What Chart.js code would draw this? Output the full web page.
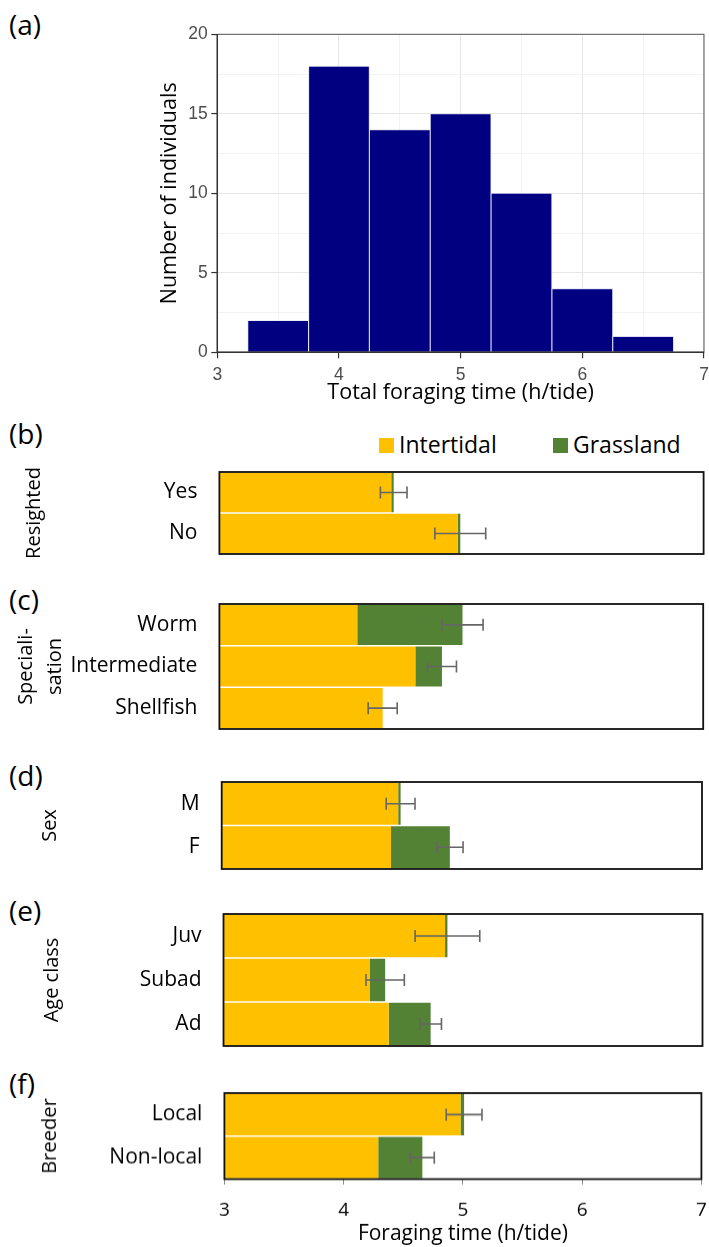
<!DOCTYPE html>
<html>
<head>
<meta charset="utf-8">
<script src="https://cdn.jsdelivr.net/npm/chart.js@4.4.1/dist/chart.umd.min.js"></script>
<style>
  html, body { margin: 0; padding: 0; background: #fff; }
  #fig { position: relative; width: 709px; height: 1247px; overflow: hidden; font-family: 'Open Sans', sans-serif; color: #000; }
  #fig canvas { position: absolute; left: 0; }
  .tag { position: absolute; left: 9px; font-size: 28px; line-height: 28px; white-space: nowrap; }
  .swatch { position: absolute; top: 438px; width: 15px; height: 15px; }
  .keytext { position: absolute; top: 432.5px; font-size: 23px; line-height: 23px; white-space: nowrap; }
</style>
</head>
<body>
<div id="fig">
  <div class="tag" style="top:10px">(a)</div>
  <div class="tag" style="top:419px">(b)</div>
  <div class="tag" style="top:585px">(c)</div>
  <div class="tag" style="top:761px">(d)</div>
  <div class="tag" style="top:896px">(e)</div>
  <div class="tag" style="top:1069px">(f)</div>
  <canvas id="hist"></canvas>
  <canvas id="resighted"></canvas>
  <canvas id="special"></canvas>
  <canvas id="sex"></canvas>
  <canvas id="age"></canvas>
  <canvas id="breeder"></canvas>
</div>
<script>
// ---- (a) histogram of total foraging time ----
const histBinCenters = [3.5, 4, 4.5, 5, 5.5, 6, 6.5];
const histCounts     = [2, 18, 14, 15, 10, 4, 1];
const countTicks     = [0, 5, 10, 15, 20];
const timeTicks      = [3, 4, 5, 6, 7];

// ---- (b)-(f) mean foraging time split by habitat, with SE ----
const seriesNames  = ['Intertidal', 'Grassland'];
const seriesColors = ['#FFC000', '#548235'];

const resightedLabels     = ['Yes', 'No'];
const resightedIntertidal = [4.42, 4.97];
const resightedGrassland  = [0.02, 0.02];
const resightedSE         = [0.11, 0.21];

const specialLabels     = ['Worm', 'Intermediate', 'Shellfish'];
const specialIntertidal = [4.14, 4.62, 4.35];
const specialGrassland  = [0.87, 0.22, 0.00];
const specialSE         = [0.17, 0.12, 0.12];

const sexLabels     = ['M', 'F'];
const sexIntertidal = [4.47, 4.41];
const sexGrassland  = [0.02, 0.49];
const sexSE         = [0.12, 0.11];

const ageLabels     = ['Juv', 'Subad', 'Ad'];
const ageIntertidal = [4.85, 4.22, 4.38];
const ageGrassland  = [0.02, 0.13, 0.35];
const ageSE         = [0.27, 0.16, 0.09];

const breederLabels     = ['Local', 'Non-local'];
const breederIntertidal = [4.98, 4.29];
const breederGrassland  = [0.03, 0.37];
const breederSE         = [0.15, 0.10];

const SANS = "'Open Sans', sans-serif";
const W = 709;

function sizeCanvas(id, top, height) {
  const c = document.getElementById(id);
  c.width = W; c.height = height;
  c.style.width = W + 'px'; c.style.height = height + 'px';
  c.style.top = top + 'px';
  return c;
}

// scales report no extra edge padding, so the plot box stays where the layout puts it
function noEdgePadding(s) {
  s.paddingTop = 0; s.paddingBottom = 0; s.paddingLeft = 0; s.paddingRight = 0;
}

// legend (shared by panels b-f)
const fig = document.getElementById('fig');
const legendLeft = [379, 553];
seriesNames.forEach((name, i) => {
  const sw = document.createElement('div');
  sw.className = 'swatch';
  sw.style.left = legendLeft[i] + 'px';
  sw.style.background = seriesColors[i];
  fig.appendChild(sw);
  const tx = document.createElement('div');
  tx.className = 'keytext';
  tx.style.left = (legendLeft[i] + 20) + 'px';
  tx.textContent = name;
  fig.appendChild(tx);
});

// panel frame for the histogram: light border, darker axis lines
const histFrame = {
  id: 'histFrame',
  afterDatasetsDraw(chart) {
    const { ctx, chartArea: a } = chart;
    ctx.save();
    ctx.strokeStyle = '#555';
    ctx.lineWidth = 1;
    ctx.strokeRect(a.left, a.top, a.right - a.left, a.bottom - a.top);
    ctx.strokeStyle = '#333';
    ctx.lineWidth = 1.4;
    ctx.beginPath();
    ctx.moveTo(a.left, a.top);
    ctx.lineTo(a.left, a.bottom);
    ctx.lineTo(a.right, a.bottom);
    ctx.stroke();
    ctx.restore();
  }
};

// black box around each bar panel
const boxFrame = {
  id: 'boxFrame',
  afterDatasetsDraw(chart) {
    const { ctx, chartArea: a } = chart;
    ctx.save();
    ctx.strokeStyle = '#111';
    ctx.lineWidth = 1.8;
    ctx.strokeRect(a.left, a.top, a.right - a.left, a.bottom - a.top);
    ctx.restore();
  }
};

// standard-error whiskers centred on the stacked total
const errorBars = {
  id: 'errorBars',
  afterDatasetsDraw(chart, args, opts) {
    const { ctx } = chart;
    const xs = chart.scales.x, ys = chart.scales.y;
    const [d0, d1] = chart.data.datasets;
    ctx.save();
    ctx.strokeStyle = '#666';
    ctx.lineWidth = 1.6;
    opts.se.forEach((e, i) => {
      const total = d0.data[i] + d1.data[i];
      const y = ys.getPixelForValue(i);
      const x1 = xs.getPixelForValue(total - e);
      const x2 = xs.getPixelForValue(total + e);
      ctx.beginPath();
      ctx.moveTo(x1, y); ctx.lineTo(x2, y);
      ctx.moveTo(x1, y - 6); ctx.lineTo(x1, y + 6);
      ctx.moveTo(x2, y - 6); ctx.lineTo(x2, y + 6);
      ctx.stroke();
    });
    ctx.restore();
  }
};

// ---- (a) ----
(function () {
  const top = 0, height = 410;
  const area = { left: 217.3, right: 704, top: 34.3, bottom: 352.3 };
  const c = sizeCanvas('hist', top, height);
  const isMajorX = v => timeTicks.includes(v);
  const isMajorY = v => countTicks.includes(v);
  new Chart(c, {
    type: 'bar',
    data: {
      datasets: [{
        data: histBinCenters.map((x, i) => ({ x: x, y: histCounts[i] })),
        backgroundColor: '#000080',
        borderColor: '#dcdcf0',
        borderWidth: 0.9,
        borderSkipped: 'start',
        barPercentage: 1,
        categoryPercentage: 1
      }]
    },
    options: {
      responsive: false,
      animation: false,
      layout: { padding: { top: area.top, right: W - area.right, bottom: 0, left: 0 } },
      plugins: { legend: { display: false }, tooltip: { enabled: false } },
      scales: {
        x: {
          type: 'linear',
          min: timeTicks[0], max: timeTicks[timeTicks.length - 1],
          offset: false,
          afterFit(s) { s.height = height - area.bottom; noEdgePadding(s); },
          ticks: {
            stepSize: 0.5, autoSkip: false, maxRotation: 0,
            callback: v => isMajorX(v) ? String(v) : '',
            font: { family: "'Liberation Sans', Arial, sans-serif", size: 17.5 },
            color: '#4d4d4d', padding: 6
          },
          grid: {
            offset: false,
            color: ctx => isMajorX(ctx.tick.value) ? '#e6e6e6' : '#eeeeee',
            lineWidth: ctx => isMajorX(ctx.tick.value) ? 1.1 : 0.7,
            tickLength: 6,
            tickColor: ctx => isMajorX(ctx.tick.value) ? '#333' : 'rgba(0,0,0,0)',
            tickWidth: 1.2
          },
          border: { display: false },
          title: {
            display: true, text: 'Total foraging time (h/tide)',
            font: { family: SANS, size: 21.5 }, color: '#000',
            padding: { top: 0, bottom: 3.8 }
          }
        },
        y: {
          min: countTicks[0], max: countTicks[countTicks.length - 1],
          afterFit(s) { s.width = area.left; noEdgePadding(s); },
          ticks: {
            stepSize: 2.5, autoSkip: false,
            callback: v => isMajorY(v) ? String(v) : '',
            font: { family: "'Liberation Sans', Arial, sans-serif", size: 17.5 },
            color: '#4d4d4d', padding: 3.5
          },
          grid: {
            color: ctx => isMajorY(ctx.tick.value) ? '#e6e6e6' : '#eeeeee',
            lineWidth: ctx => isMajorY(ctx.tick.value) ? 1.1 : 0.7,
            tickLength: 6,
            tickColor: ctx => isMajorY(ctx.tick.value) ? '#333' : 'rgba(0,0,0,0)',
            tickWidth: 1.2
          },
          border: { display: false },
          title: {
            display: true, text: 'Number of individuals',
            font: { family: SANS, size: 21.5 }, color: '#000',
            padding: { top: 170 - 21.5 * 1.2 / 2, bottom: 0 }
          }
        }
      }
    },
    plugins: [histFrame]
  });
})();

// ---- (b)-(f) ----
function foragingPanel(id, box, labels, intertidal, grassland, se, title, titleX, showAxis) {
  const canvasTop = box.top - 10;
  const canvasBottom = showAxis ? 1247 : box.bottom + 10;
  const height = canvasBottom - canvasTop;
  const c = sizeCanvas(id, canvasTop, height);
  const titleLines = Array.isArray(title) ? title.length : 1;
  const lh = titleLines > 1 ? 1.48 : 1.2;
  new Chart(c, {
    type: 'bar',
    data: {
      labels: labels,
      datasets: [
        { label: seriesNames[0], data: intertidal, backgroundColor: seriesColors[0], clip: 0 },
        { label: seriesNames[1], data: grassland, backgroundColor: seriesColors[1], clip: 0 }
      ]
    },
    options: {
      indexAxis: 'y',
      responsive: false,
      animation: false,
      datasets: { bar: { categoryPercentage: 1, barPercentage: 0.965, borderWidth: 0 } },
      layout: {
        padding: {
          top: box.top - canvasTop,
          right: W - box.right,
          bottom: showAxis ? 0 : canvasBottom - box.bottom,
          left: 0
        }
      },
      plugins: { legend: { display: false }, tooltip: { enabled: false }, errorBars: { se: se } },
      scales: {
        x: {
          type: 'linear', stacked: true,
          min: timeTicks[0], max: timeTicks[timeTicks.length - 1],
          display: showAxis,
          afterFit(s) { s.height = showAxis ? canvasBottom - box.bottom : 0; noEdgePadding(s); },
          ticks: {
            stepSize: 1, autoSkip: false, maxRotation: 0,
            font: { family: SANS, size: 19 }, color: '#000', padding: 14.6
          },
          grid: { drawOnChartArea: false, drawTicks: true, tickLength: 5.5, tickColor: '#8c8c8c', tickWidth: 1 },
          border: { display: false },
          title: {
            display: true, text: 'Foraging time (h/tide)',
            font: { family: SANS, size: 21 }, color: '#000',
            padding: { top: 0, bottom: 0.4 }
          }
        },
        y: {
          stacked: true,
          afterFit(s) { s.width = box.left; noEdgePadding(s); },
          ticks: { font: { family: SANS, size: 21 }, color: '#000', padding: 22, autoSkip: false },
          grid: { display: false, drawTicks: false },
          border: { display: false },
          title: {
            display: true, text: title,
            font: { family: SANS, size: 20, lineHeight: lh }, color: '#000',
            padding: { top: titleX - 20 * lh / 2, bottom: 0 }
          }
        }
      }
    },
    plugins: [boxFrame, errorBars]
  });
}

foragingPanel('resighted', { top: 471.5, bottom: 553.5, left: 219.4, right: 703.6 },
  resightedLabels, resightedIntertidal, resightedGrassland, resightedSE, 'Resighted', 34, false);
foragingPanel('special', { top: 603.5, bottom: 729, left: 219.4, right: 703.2 },
  specialLabels, specialIntertidal, specialGrassland, specialSE, ['Speciali-', 'sation'], 26, false);
foragingPanel('sex', { top: 782.3, bottom: 869.5, left: 221.7, right: 702 },
  sexLabels, sexIntertidal, sexGrassland, sexSE, 'Sex', 50, false);
foragingPanel('age', { top: 914, bottom: 1046, left: 223.5, right: 702.5 },
  ageLabels, ageIntertidal, ageGrassland, ageSE, 'Age class', 52, false);
foragingPanel('breeder', { top: 1093.2, bottom: 1179.5, left: 224.4, right: 701.4 },
  breederLabels, breederIntertidal, breederGrassland, breederSE, 'Breeder', 50, true);
</script>
</body>
</html>
